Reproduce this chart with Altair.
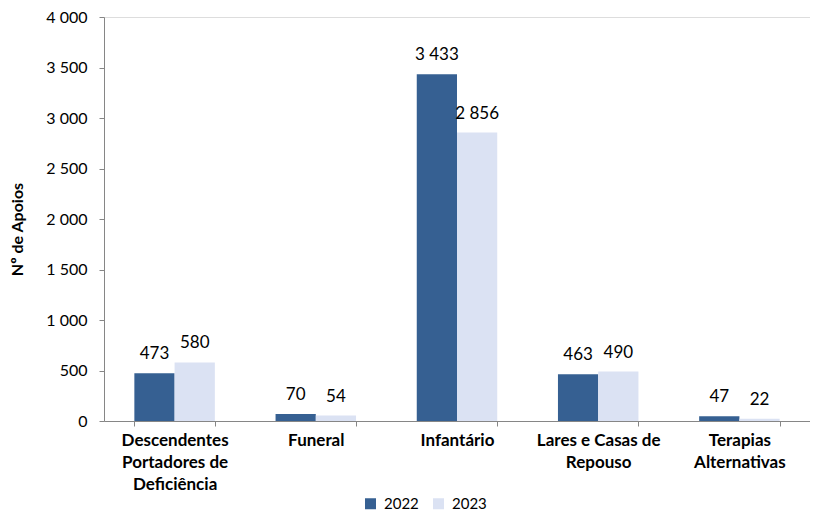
import altair as alt
import pandas as pd

categories = ["Descendentes Portadores de Deficiência", "Funeral", "Infantário",
              "Lares e Casas de Repouso", "Terapias Alternativas"]
label_lines = [["Descendentes", "Portadores de", "Deficiência"], ["Funeral"], ["Infantário"],
               ["Lares e Casas de", "Repouso"], ["Terapias", "Alternativas"]]
values_2022 = [473, 70, 3433, 463, 47]
values_2023 = [580, 54, 2856, 490, 22]
years = ["2022", "2023"]
y_ticks = [0, 500, 1000, 1500, 2000, 2500, 3000, 3500, 4000]
colors = ["#366092", "#DBE2F3"]

rows = []
for c, a, b in zip(categories, values_2022, values_2023):
    rows.append({"cat": c, "year": years[0], "v": a})
    rows.append({"cat": c, "year": years[1], "v": b})
df = pd.DataFrame(rows)

expr = ""
for c, lines in zip(categories, label_lines):
    arr = "[" + ",".join("'" + l + "'" for l in lines) + "]"
    expr += f"datum.label == '{c}' ? {arr} : "
expr += "datum.label"

FONT = "Lato"
AX = "#868686"

x = alt.X("cat:N", sort=categories, title=None,
          scale=alt.Scale(paddingInner=0.43, paddingOuter=0.215),
          axis=alt.Axis(labelExpr=expr, labelAngle=0, labelFont=FONT, labelFontSize=17,
                        labelFontWeight="bold", labelColor="#000000", labelLineHeight=22,
                        labelPadding=6, tickBand="extent", tickSize=5, tickColor=AX,
                        domainColor=AX, labelBaseline="top"))
xo = alt.XOffset("year:N", sort=years)
y = alt.Y("v:Q", scale=alt.Scale(domain=[0, 4000], nice=False),
          axis=alt.Axis(values=y_ticks, title="Nº de Apoios", grid=False,
                        labelExpr="replace(format(datum.value, ','), ',', ' ')",
                        labelFont=FONT, labelFontSize=16, labelColor="#000000",
                        labelPadding=12, tickSize=5, tickColor=AX, domainColor=AX,
                        titleFont=FONT, titleFontSize=16, titleFontWeight="bold",
                        titleColor="#000000", titleAngle=270, titleX=-87, titleY=212,
                        titleAlign="center", titleBaseline="middle"))

color = alt.Color("year:N", sort=years, title=None,
                  scale=alt.Scale(domain=years, range=colors),
                  legend=alt.Legend(orient="none", legendX=259, legendY=479, direction="horizontal",
                                    symbolType="square", symbolSize=121, symbolStrokeWidth=0,
                                    labelFont=FONT, labelFontSize=15, labelColor="#000000",
                                    columnPadding=12, labelOffset=6, padding=0))

bars = alt.Chart(df).mark_bar().encode(x=x, xOffset=xo, y=y, color=color)
text = alt.Chart(df).transform_calculate(
    lbl="replace(format(datum.v, ','), ',', ' ')"
).mark_text(baseline="bottom", dy=-10, font=FONT, fontSize=17, color="#000000").encode(
    x=x, xOffset=xo, y=y, text="lbl:N")

chart = alt.layer(bars, text).properties(
    width=706, height=404,
    autosize=alt.AutoSizeParams(type="none"),
    padding={"left": 96, "top": 9, "right": 0, "bottom": 90}
).configure_view(stroke=None).configure(background="white")

chart.save("out.html", embed_options={"renderer": "svg", "actions": False})
